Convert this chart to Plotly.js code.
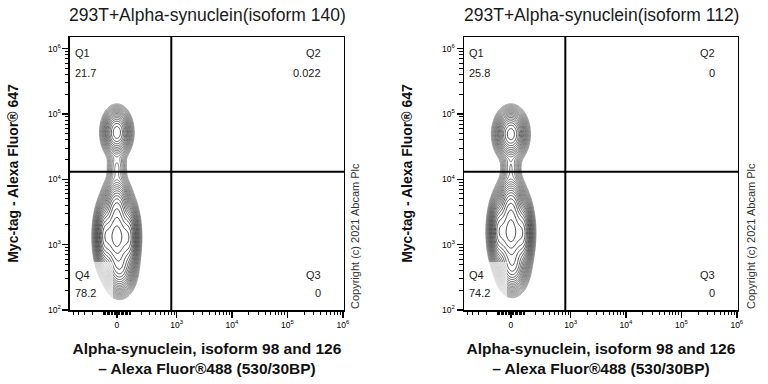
<!DOCTYPE html>
<html><head><meta charset="utf-8">
<script src="https://cdn.plot.ly/plotly-3.0.1.min.js"></script>
<style>html,body{margin:0;padding:0;background:#fff}#chart{width:768px;height:384px}</style>
</head><body><div id="chart"></div>
<script>
// ---------- data ----------
const panelTitles = ["293T+Alpha-synuclein(isoform 140)", "293T+Alpha-synuclein(isoform 112)"];
const quadNames = ["Q1", "Q2", "Q3", "Q4"];
const quadValues140 = ["21.7", "0.022", "0", "78.2"];
const quadValues112 = ["25.8", "0", "0", "74.2"];
const gateX = 800;      // Alexa Fluor 488 gate (raw)
const gateY = 13000;    // Alexa Fluor 647 gate (raw)

// populations: raw centres, spreads (decades of display), relative peak height
// [upper, lower core, lower-upper part, lower tail, left lobe, right lobe, neck]
const pop140_x   = [0,     0,    0,    20,   -89,  89,   0];
const pop140_y   = [52000, 1300, 3600, 450,  1350, 1300, 15000];
const pop140_sx  = [0.10,  0.12, 0.10, 0.11, 0.07, 0.07, 0.08];
const pop140_sy  = [0.14,  0.22, 0.18, 0.16, 0.20, 0.20, 0.15];
const pop140_amp = [0.35,  1.0,  0.35, 0.3,  0.45, 0.45, 0.025];

const pop112_x   = [0,     0,    0,    10,   -89,  89,   0];
const pop112_y   = [49000, 1500, 3800, 480,  1600, 1500, 15000];
const pop112_sx  = [0.11,  0.12, 0.10, 0.11, 0.07, 0.07, 0.08];
const pop112_sy  = [0.145, 0.22, 0.18, 0.16, 0.20, 0.20, 0.15];
const pop112_amp = [0.45,  1.0,  0.4,  0.3,  0.45, 0.45, 0.03];

const xMajorTicks = [0, 1e3, 1e4, 1e5, 1e6];
const xMajorLabels = ["0", "10<sup>3</sup>", "10<sup>4</sup>", "10<sup>5</sup>", "10<sup>6</sup>"];
const xMinorTicks = [-500, -400, -300, -200, -100, -90, -80, -70, -60, -50, -40, -30, -20, -10,
  10, 20, 30, 40, 50, 60, 70, 80, 90, 100, 200, 300, 400, 500, 600, 700, 800, 900,
  2e3, 3e3, 4e3, 5e3, 6e3, 7e3, 8e3, 9e3, 2e4, 3e4, 4e4, 5e4, 6e4, 7e4, 8e4, 9e4,
  2e5, 3e5, 4e5, 5e5, 6e5, 7e5, 8e5, 9e5];
const yMajorTicks = [1e2, 1e3, 1e4, 1e5, 1e6];
const yMajorLabels = ["10<sup>2</sup>", "10<sup>3</sup>", "10<sup>4</sup>", "10<sup>5</sup>", "10<sup>6</sup>"];
const yMinorTicks = [2e2,3e2,4e2,5e2,6e2,7e2,8e2,9e2,2e3,3e3,4e3,5e3,6e3,7e3,8e3,9e3,
  2e4,3e4,4e4,5e4,6e4,7e4,8e4,9e4,2e5,3e5,4e5,5e5,6e5,7e5,8e5,9e5];
const xRangeRaw = [-580, 1.05e6];
const yRangeRaw = [100, 1.5e6];

// ---------- display transforms (biexponential-like x, log y) ----------
const T = v => Math.asinh(v / 169) / Math.LN10;
const L = v => Math.log10(v);

function densityGrid(px, py, sx, sy, amp) {
  const tx = [], ly = [];
  for (let t = -0.9; t <= 1.3001; t += 0.01) tx.push(t);
  for (let l = 1.9; l <= 6.3001; l += 0.02) ly.push(l);
  const cx = px.map(T), cy = py.map(L);
  let zmax = -Infinity;
  const z = ly.map(l => tx.map(t => {
    let s = 0;
    for (let k = 0; k < cx.length; k++) {
      const dx = (t - cx[k]) / sx[k], dy = (l - cy[k]) / sy[k];
      s += amp[k] * Math.exp(-0.5 * (dx * dx + dy * dy));
    }
    const v = Math.log10(s + 1e-12);
    if (v > zmax) zmax = v;
    return v;
  }));
  return {tx, ly, z, zmax};
}

function contourTrace(g, xa, ya) {
  return {
    type: 'contour', x: g.tx, y: g.ly, z: g.z, xaxis: xa, yaxis: ya,
    autocontour: false,
    contours: {start: g.zmax - 2.6, end: g.zmax - 0.04, size: 0.12, coloring: 'lines'},
    colorscale: [[0, '#8a8a8a'], [0.5, '#4a4a4a'], [1, '#151515']],
    line: {width: 0.8, smoothing: 1}, showscale: false, hoverinfo: 'skip'
  };
}

const g140 = densityGrid(pop140_x, pop140_y, pop140_sx, pop140_sy, pop140_amp);
const g112 = densityGrid(pop112_x, pop112_y, pop112_sx, pop112_sy, pop112_amp);
const data = [contourTrace(g140, 'x', 'y'), contourTrace(g112, 'x2', 'y2')];

const FAM = 'Arial, Liberation Sans, sans-serif';
const tickFont = {family: FAM, size: 8.5, color: '#000'};
const titleFont = {family: FAM, size: 15.5, color: '#111', weight: 'bold'};
function xAxis(dom, anchor) {
  return {
    domain: dom, anchor: anchor, range: xRangeRaw.map(T), showgrid: false, zeroline: false,
    showline: true, mirror: true, linecolor: '#000', linewidth: 1.5,
    tickmode: 'array', tickvals: xMajorTicks.map(T), ticktext: xMajorLabels,
    ticks: 'outside', ticklen: 6, tickwidth: 1.5, tickcolor: '#000', tickfont: tickFont,
    minor: {tickmode: 'array', tickvals: xMinorTicks.map(T), ticks: 'outside', ticklen: 3.5, tickwidth: 1, tickcolor: '#000', showgrid: false},
    title: {text: 'Alpha-synuclein, isoform 98 and 126<br>– Alexa Fluor®488 (530/30BP)', font: titleFont, standoff: 14}
  };
}
function yAxis(anchor) {
  return {
    domain: [0.1927, 0.9036], anchor: anchor, range: yRangeRaw.map(L), showgrid: false, zeroline: false,
    showline: true, mirror: true, linecolor: '#000', linewidth: 1.5,
    tickmode: 'array', tickvals: yMajorTicks.map(L), ticktext: yMajorLabels,
    ticks: 'outside', ticklen: 6, tickwidth: 1.5, tickcolor: '#000', tickfont: tickFont,
    minor: {tickmode: 'array', tickvals: yMinorTicks.map(L), ticks: 'outside', ticklen: 3.5, tickwidth: 1, tickcolor: '#000', showgrid: false},
    title: {text: 'Myc-tag - Alexa Fluor® 647', font: {family: FAM, size: 14, color: '#111', weight: 'bold'}, standoff: 26}
  };
}

const annotations = [];
const ff = {family: FAM, size: 11, color: '#222'};
[[quadValues140, 'x', 'y'], [quadValues112, 'x2', 'y2']].forEach(([vals, xa, ya], i) => {
  const xr = xa + ' domain', yr = ya + ' domain';
  annotations.push(
    {xref: xr, yref: yr, x: 0, y: 1, xanchor: 'left', yanchor: 'middle', xshift: 3, yshift: -16, text: quadNames[0], showarrow: false, font: ff},
    {xref: xr, yref: yr, x: 0, y: 1, xanchor: 'left', yanchor: 'middle', xshift: 3, yshift: -36, text: vals[0], showarrow: false, font: ff},
    {xref: xr, yref: yr, x: 1, y: 1, xanchor: 'right', yanchor: 'middle', xshift: -21, yshift: -16, text: quadNames[1], showarrow: false, font: ff},
    {xref: xr, yref: yr, x: 1, y: 1, xanchor: 'right', yanchor: 'middle', xshift: -21, yshift: -36, text: vals[1], showarrow: false, font: ff},
    {xref: xr, yref: yr, x: 1, y: 0, xanchor: 'right', yanchor: 'middle', xshift: -21, yshift: 35, text: quadNames[2], showarrow: false, font: ff},
    {xref: xr, yref: yr, x: 1, y: 0, xanchor: 'right', yanchor: 'middle', xshift: -21, yshift: 17, text: vals[2], showarrow: false, font: ff},
    {xref: xr, yref: yr, x: 0, y: 0, xanchor: 'left', yanchor: 'middle', xshift: 3, yshift: 35, text: quadNames[3], showarrow: false, font: ff},
    {xref: xr, yref: yr, x: 0, y: 0, xanchor: 'left', yanchor: 'middle', xshift: 3, yshift: 17, text: vals[3], showarrow: false, font: ff},
    {xref: 'paper', yref: 'paper', x: [207, 601][i] / 768, y: 1 - 15 / 384, xanchor: 'center', yanchor: 'middle',
     text: panelTitles[i], showarrow: false, font: {family: FAM, size: 17.5, color: '#1a1a1a'}},
    {xref: 'paper', yref: 'paper', x: [355, 751][i] / 768, y: 1 - 236 / 384, xanchor: 'center', yanchor: 'middle', textangle: -90,
     text: 'Copyright (c) 2021 Abcam Plc', showarrow: false, font: {family: FAM, size: 11, color: '#333'}}
  );
});

const shapes = [];
[['x', 'y'], ['x2', 'y2']].forEach(([xa, ya]) => {
  shapes.push(
    {type: 'rect', xref: xa + ' domain', yref: ya + ' domain', x0: 0.006, x1: 0.157, y0: 0.006, y1: 0.176,
     fillcolor: 'rgba(255,255,255,0.65)', line: {width: 0}, layer: 'above'},
    {type: 'line', xref: xa, yref: ya + ' domain', x0: T(gateX), x1: T(gateX), y0: 0, y1: 1, line: {color: '#000', width: 2}},
    {type: 'line', xref: xa + ' domain', yref: ya, x0: 0, x1: 1, y0: L(gateY), y1: L(gateY), line: {color: '#000', width: 2}}
  );
});

const layout = {
  width: 768, height: 384, margin: {l: 0, r: 0, t: 0, b: 0},
  paper_bgcolor: '#fff', plot_bgcolor: '#fff', showlegend: false,
  xaxis: xAxis([0.0911, 0.4479], 'y'), yaxis: yAxis('x'),
  xaxis2: xAxis([0.6042, 0.9609], 'y2'), yaxis2: yAxis('x2'),
  annotations: annotations, shapes: shapes
};
Plotly.newPlot('chart', data, layout, {staticPlot: true});
</script></body></html>
